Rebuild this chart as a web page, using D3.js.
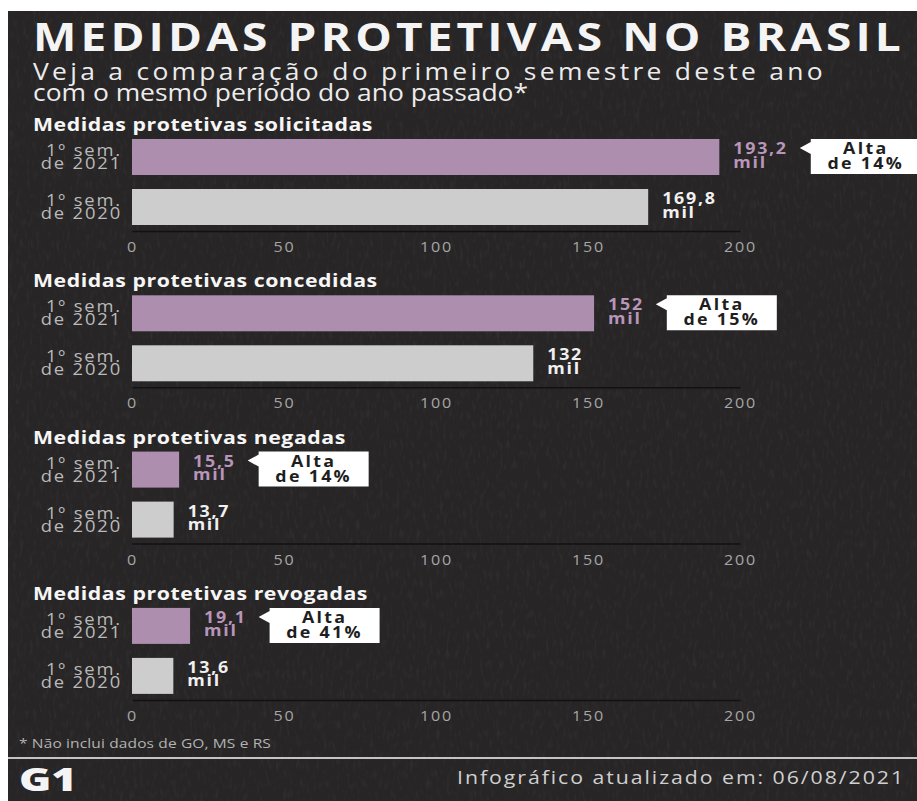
<!DOCTYPE html>
<html>
<head>
<meta charset="utf-8">
<script src="https://cdn.jsdelivr.net/npm/d3@7"></script>
<style>
  body { margin: 0; background: #ffffff; }
  svg { display: block; font-family: "Open Sans", "DejaVu Sans", sans-serif; }
</style>
</head>
<body>
<svg width="917" height="801"></svg>
<script>
// dados
var secoes = ["Medidas protetivas solicitadas", "Medidas protetivas concedidas", "Medidas protetivas negadas", "Medidas protetivas revogadas"];
var periodos = ["2021", "2020"];
var valores2021 = [193.2, 152, 15.5, 19.1];
var valores2020 = [169.8, 132, 13.7, 13.6];
var rotulos2021 = ["193,2", "152", "15,5", "19,1"];
var rotulos2020 = ["169,8", "132", "13,7", "13,6"];
var altas = ["de 14%", "de 15%", "de 14%", "de 41%"];
var ticks = [0, 50, 100, 150, 200];

var svg = d3.select("svg");
var larghezza = 917, altezza = 801;
var S = 1.15; // il font dell'originale e' piu' largo

// testo allargato orizzontalmente attorno al punto (x, y)
function testo(parent, x, y) {
  return parent.append("text").attr("transform", "translate(" + x + "," + y + ") scale(" + S + ",1)");
}

// letter-spacing per arrivare alla larghezza voluta (in pixel finali)
function allarga(t, target) {
  var n = t.text().length;
  var l = t.node().getComputedTextLength();
  t.attr("letter-spacing", Math.max(0, (target / S - l) / n));
  return t;
}

// sfondo con grana
var defs = svg.append("defs");
var f = defs.append("filter").attr("id", "grana").attr("x", 0).attr("y", 0).attr("width", "100%").attr("height", "100%");
f.append("feTurbulence").attr("type", "fractalNoise").attr("baseFrequency", "0.3 0.1").attr("numOctaves", 2).attr("seed", 7);
f.append("feColorMatrix").attr("type", "matrix")
  .attr("values", "0 0 0 0 1  0 0 0 0 1  0 0 0 0 1  1 0 0 0 -0.5");

svg.append("rect").attr("x", 8).attr("y", 11).attr("width", larghezza - 8).attr("height", altezza - 11).attr("fill", "#272525");
svg.append("rect").attr("x", 8).attr("y", 11).attr("width", larghezza - 8).attr("height", altezza - 11)
  .attr("filter", "url(#grana)").attr("opacity", 0.11);

// titolo
allarga(testo(svg, 33, 51).attr("fill", "#f4f4f4").attr("font-size", 40).attr("font-weight", 700)
  .text("MEDIDAS PROTETIVAS NO BRASIL"), 872);
allarga(testo(svg, 33, 80).attr("fill", "#ececec").attr("font-size", 23)
  .text("Veja a comparação do primeiro semestre deste ano"), 793);
allarga(testo(svg, 33, 101).attr("fill", "#ececec").attr("font-size", 23)
  .text("com o mesmo período do ano passado*"), 470);

var x = d3.scaleLinear().domain([0, 200]).range([132, 740]);
var y = d3.scaleBand().domain(periodos).range([0, 86]).paddingInner(0.28);
var passo = 156.3;
var lsTitoli = null;

secoes.forEach(function(titolo, i) {
  var g = svg.append("g").attr("transform", "translate(0," + (139 + i * passo) + ")");

  var tt = testo(g, 33, -8).attr("fill", "#f6f6f6").attr("font-size", 18.5).attr("font-weight", 700).text(titolo);
  if (lsTitoli === null) { allarga(tt, 340); lsTitoli = tt.attr("letter-spacing"); }
  else tt.attr("letter-spacing", lsTitoli);

  var dati = [
    {p: "2021", v: valores2021[i], r: rotulos2021[i], c: "#ae8eae", tc: "#b895b9"},
    {p: "2020", v: valores2020[i], r: rotulos2020[i], c: "#cdcdcd", tc: "#f0f0f0"}
  ];

  g.selectAll(".barra").data(dati).enter().append("rect")
    .attr("class", "barra")
    .attr("x", x(0))
    .attr("y", function(d) { return y(d.p); })
    .attr("width", function(d) { return x(d.v) - x(0); })
    .attr("height", y.bandwidth())
    .attr("fill", function(d) { return d.c; });

  // etichette categoria
  dati.forEach(function(d) {
    var c = testo(g, 122, y(d.p) + y.bandwidth() / 2)
      .attr("text-anchor", "end").attr("fill", "#bababa").attr("font-size", 16).attr("letter-spacing", 1.6);
    c.append("tspan").attr("x", 0).attr("y", -1).text("1º sem.");
    c.append("tspan").attr("x", 0).attr("y", 12).text("de " + d.p);
  });

  // valori
  var larg = 0;
  dati.forEach(function(d, k) {
    var v = testo(g, x(d.v) + 14, y(d.p) + y.bandwidth() / 2)
      .attr("fill", d.tc).attr("font-size", 15.5).attr("font-weight", 700).attr("letter-spacing", 1.5);
    v.append("tspan").attr("x", 0).attr("y", -3).text(d.r);
    v.append("tspan").attr("x", 0).attr("y", 10.5).text("mil");
    if (k === 0) larg = v.node().getBBox().width * S;
  });

  // fumetto
  var punta = x(dati[0].v) + 14 + larg + 12;
  var fumetto = g.append("g").attr("transform", "translate(" + punta + "," + y("2021") + ")");
  fumetto.append("path")
    .attr("d", "M0,9 L11,3 L11,0 L121,0 L121,35 L11,35 L11,15 Z")
    .attr("fill", "#ffffff");
  var tb = testo(fumetto, 66, 0).attr("text-anchor", "middle")
    .attr("fill", "#1e1e1e").attr("font-size", 15.5).attr("font-weight", 700).attr("letter-spacing", 2);
  tb.append("tspan").attr("x", 0).attr("y", 15).text("Alta");
  tb.append("tspan").attr("x", 0).attr("y", 30).text(altas[i]);

  // asse
  var asse = g.append("g").attr("transform", "translate(0," + 92 + ")")
    .call(d3.axisBottom(x).tickValues(ticks).tickSize(0).tickSizeOuter(0).tickPadding(11));
  asse.select(".domain").attr("stroke", "#121212").attr("stroke-width", 1.5);
  asse.selectAll(".tick text")
    .attr("fill", "#a6a6a6").attr("font-size", 14).attr("letter-spacing", 1.6)
    .attr("font-family", "Open Sans, sans-serif")
    .attr("transform", "scale(" + S + ",1)")
    .attr("x", 0);
});

// nota
allarga(testo(svg, 19, 748).attr("fill", "#b3b3b3").attr("font-size", 13.5)
  .text("* Não inclui dados de GO, MS e RS"), 252);

svg.append("line").attr("x1", 8).attr("x2", larghezza).attr("y1", 758).attr("y2", 758)
  .attr("stroke", "#c4c4c4").attr("stroke-width", 2);

// logo G1
svg.append("text").attr("x", 19).attr("y", 791)
  .attr("fill", "#f4f4f4").attr("font-size", 31).attr("font-weight", 800)
  .attr("font-family", "Open Sans, sans-serif")
  .attr("textLength", 58).attr("lengthAdjust", "spacingAndGlyphs")
  .text("G1");

var dataTesto = testo(svg, 905, 784).attr("text-anchor", "end")
  .attr("fill", "#d0d0d0").attr("font-size", 18.5)
  .text("Infográfico atualizado em: 06/08/2021");
allarga(dataTesto, 448);
</script>
</body>
</html>
